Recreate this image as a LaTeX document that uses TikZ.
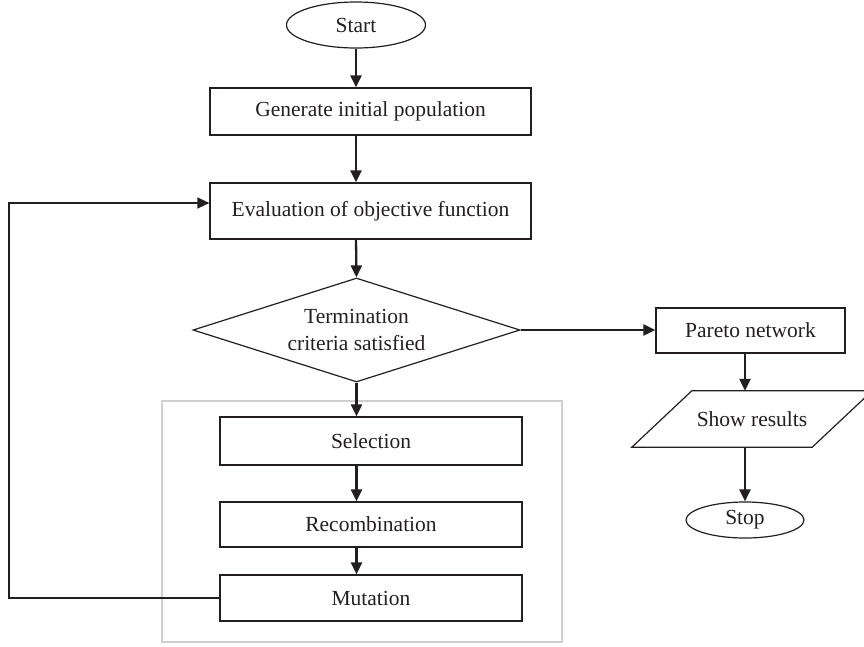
\documentclass[tikz,border=0pt]{standalone}
\usepackage{fontspec}
\setmainfont{Liberation Serif}
\usetikzlibrary{shapes.geometric,arrows.meta,calc}
\definecolor{ink}{HTML}{231F20}
\definecolor{frame}{HTML}{CFCFCF}
\begin{document}
\begin{tikzpicture}[x=1pt,y=-1pt,
  every node/.style={font=\fontsize{21.5}{27}\selectfont, text=ink},
  box/.style={draw=ink, line width=1.2pt, rectangle, inner sep=0pt, minimum width=#1, align=center},
  oval/.style={draw=ink, line width=1.2pt, ellipse, inner sep=0pt},
  arr/.style={draw=ink, line width=2.3pt, -{Triangle[length=12pt,width=11pt]}},
  thinarr/.style={draw=ink, line width=1.4pt, -{Triangle[length=12pt,width=11pt]}}
]
\useasboundingbox (0,0) rectangle (864,646);
\clip (0,0) rectangle (864,646);

% grey frame around the variation steps
\draw[frame, line width=1.3pt] (162,401) rectangle (562,642);

\node[oval, minimum width=139pt, minimum height=46pt] (start) at (356,25) {Start};
\node[box=321pt, minimum height=47pt] (gen) at (370.5,111.5) {Generate initial population};
\node[box=321pt, minimum height=56pt] (eval) at (370.5,211) {Evaluation of objective function};
\node[draw=ink, line width=1.2pt, diamond, aspect=3.14, inner sep=0pt,
      minimum width=327pt, minimum height=104pt, align=center] (diam) at (356.5,330)
      {Termination\\criteria satisfied};
\node[box=302pt, minimum height=48pt] (sel) at (371,441) {Selection};
\node[box=302pt, minimum height=45pt] (rec) at (371,524.5) {Recombination};
\node[box=302pt, minimum height=46pt] (mut) at (371,598) {Mutation};

\node[box=189pt, minimum height=45pt] (par) at (750.5,330.5) {Pareto network};
\node[inner sep=0pt, minimum width=180pt, minimum height=56pt] (show) at (752,419) {Show results};
\draw[ink, line width=1.2pt] ([xshift=-30pt]show.south west) -- ([xshift=-30pt]show.south east)
  -- ([xshift=30pt]show.north east) -- ([xshift=30pt]show.north west) -- cycle;
\node[oval, minimum width=118pt, minimum height=36pt] (stop) at (745,520) {Stop};

\coordinate (fbl) at (9,598);
\coordinate (fbu) at (9,203);

% main column connectors
\draw[arr] (start.south) -- (start.south |- gen.north);
\draw[arr] (start.south |- gen.south) -- (start.south |- eval.north);
\draw[arr] (start.south |- eval.south) -- (diam.north);
\draw[arr] (diam.south) -- (diam.south |- sel.north);
\draw[arr] (diam.south |- sel.south) -- (diam.south |- rec.north);
\draw[arr] (diam.south |- rec.south) -- (diam.south |- mut.north);

% right branch
\draw[arr] (diam.east) -- (par.west |- diam.east);
\draw[arr] (stop.north |- par.south) -- (stop.north |- show.north);
\draw[arr] (stop.north |- show.south) -- (stop.north);

% feedback loop
\draw[thinarr] (mut.west) -- (fbl) -- (fbu) -- (fbu -| eval.west);
\end{tikzpicture}
\end{document}
